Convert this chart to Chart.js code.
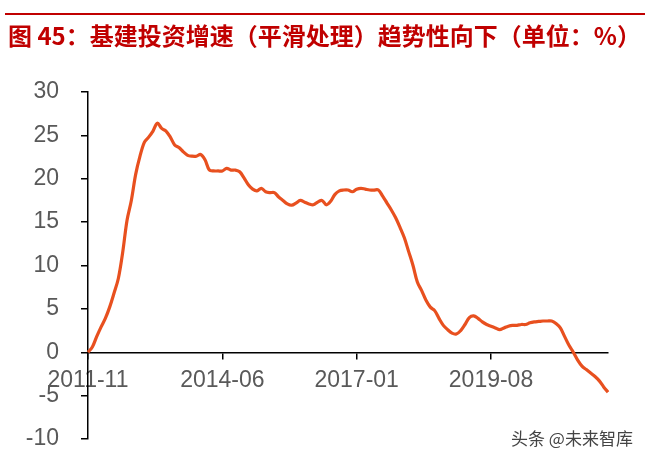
<!DOCTYPE html>
<html>
<head>
<meta charset="utf-8">
<script src="https://cdn.jsdelivr.net/npm/chart.js@4/dist/chart.umd.min.js"></script>
<style>
  html, body { margin: 0; padding: 0; background: #fff; }
  #wrap { position: relative; width: 649px; height: 460px; overflow: hidden; }
  #rule { position: absolute; left: 5px; top: 13px; width: 640px; height: 2px; background: #c00000; }
  #title {
    position: absolute; left: 8px; top: 20px; white-space: nowrap;
    font-family: "Noto Sans CJK SC", sans-serif; font-weight: bold; font-size: 24px;
    color: #c00000; line-height: 30px;
  }
  #mark {
    position: absolute; left: 511px; top: 425px; white-space: nowrap;
    font-family: "Noto Sans CJK SC", sans-serif; font-size: 17px; color: #444;
  }
  canvas { position: absolute; left: 0; top: 0; }
</style>
</head>
<body>
<div id="wrap">
  <canvas id="growthChart" width="649" height="460"></canvas>
  <div id="rule"></div>
  <div id="title">图 45：基建投资增速（平滑处理）趋势性向下（单位：%）</div>
  <div id="mark">头条 @未来智库</div>
</div>
<script>
// monthly, 2011-11 .. 2021-11
const startYear = 2011;
const startMonth = 11;
const shownTicks = ['2011-11', '2014-06', '2017-01', '2019-08'];

const growth = [
    0, 0.6, 1.8, 2.9, 3.9, 5.2, 6.8, 8.5, 11.5, 15.2,
    17.5, 20.5, 22.6, 24.2, 24.8, 25.5, 26.4, 25.8, 25.5, 24.8,
    23.9, 23.6, 23.1, 22.7, 22.6, 22.6, 22.8, 22.2, 21.0, 20.9,
    20.9, 20.9, 21.2, 21.0, 21.0, 20.8, 20.1, 19.3, 18.8, 18.6,
    18.9, 18.5, 18.4, 18.4, 17.9, 17.5, 17.1, 16.95, 17.2, 17.5,
    17.3, 17.1, 17.0, 17.3, 17.5, 17.0, 17.4, 18.2, 18.6, 18.7,
    18.7, 18.5, 18.8, 18.9, 18.8, 18.7, 18.7, 18.7, 18.0, 17.2,
    16.4, 15.5, 14.4, 13.2, 11.6, 10.0, 8.1, 7.1, 6.0, 5.2,
    4.8, 3.9, 3.1, 2.6, 2.2, 2.1, 2.5, 3.2, 4.0, 4.2,
    3.9, 3.5, 3.2, 3.0, 2.8, 2.6, 2.8, 3.0, 3.1, 3.1,
    3.2, 3.2, 3.4, 3.5, 3.55, 3.6, 3.6, 3.6, 3.3, 2.8,
    1.8, 0.8, 0, -0.9, -1.6, -2.0, -2.4, -2.8, -3.3, -4.0,
    -4.6
];

const months = [];
for (let i = 0; i < growth.length; i++) {
    const m = startMonth - 1 + i;
    const y = startYear + Math.floor(m / 12);
    months.push(y + '-' + String(m % 12 + 1).padStart(2, '0'));
}

const axisFont = { family: '"Liberation Sans", Arial, sans-serif', size: 23 };
const labelColor = '#595959';

new Chart(document.getElementById('growthChart'), {
    type: 'line',
    data: {
        labels: months,
        datasets: [{
            data: growth,
            borderColor: '#e8501f',
            borderWidth: 3.2,
            pointRadius: 0,
            tension: 0.35,
            fill: false,
        }]
    },
    options: {
        responsive: false,
        animation: false,
        layout: { padding: { left: 0, top: 92, right: 41, bottom: 21 } },
        plugins: {
            legend: { display: false },
            tooltip: { enabled: false },
        },
        scales: {
            x: {
                position: { y: 0 },
                offset: false,
                border: { color: '#000', width: 1.5 },
                grid: { drawOnChartArea: false, tickLength: 6, color: '#000', lineWidth: 1.5 },
                ticks: {
                    autoSkip: false,
                    maxRotation: 0,
                    color: labelColor,
                    font: axisFont,
                    padding: 9,
                    callback: function (value) {
                        const lab = this.getLabelForValue(value);
                        return shownTicks.includes(lab) ? lab : null;
                    }
                }
            },
            y: {
                min: -10,
                max: 30,
                afterFit: (scale) => {
                    scale.width = 88;
                    // wide label gap would otherwise push the plot up
                    scale.paddingTop = 14;
                    scale.paddingBottom = 14;
                },
                border: { color: '#000', width: 1.5 },
                grid: { drawOnChartArea: false, tickLength: 7, color: '#000', lineWidth: 1.5 },
                ticks: { stepSize: 5, color: labelColor, font: axisFont, padding: 22 }
            }
        }
    }
});
</script>
</body>
</html>
